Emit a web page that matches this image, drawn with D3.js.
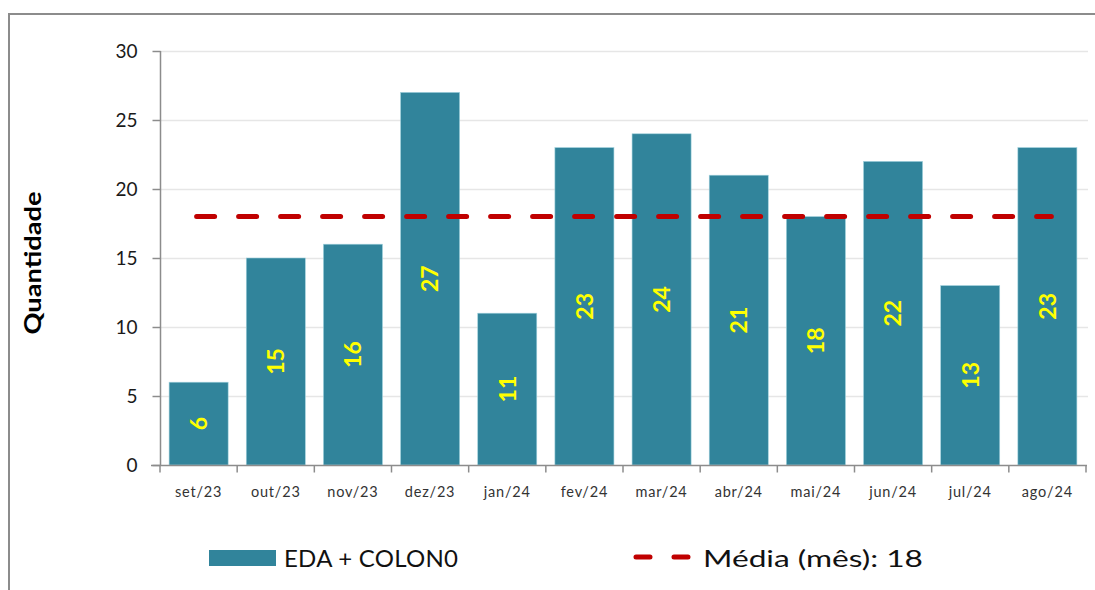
<!DOCTYPE html>
<html>
<head>
    <title>EDA + COLON0</title>
    <script src="https://d3js.org/d3.v7.min.js"></script>
    <style>
        body { margin: 0; padding: 0; background: #fff; overflow: hidden; }
        text { font-family: Lato, "Open Sans", "Liberation Sans", sans-serif; }
    </style>
</head>
<body>
    <script>
        var months = ["set/23", "out/23", "nov/23", "dez/23", "jan/24", "fev/24",
            "mar/24", "abr/24", "mai/24", "jun/24", "jul/24", "ago/24"];
        var counts = [6, 15, 16, 27, 11, 23, 24, 21, 18, 22, 13, 23];
        var mean = 18;
        var yTicks = [0, 5, 10, 15, 20, 25, 30];
        var seriesName = "EDA + COLON0";
        var meanName = "Média (mês): 18";

        var width = 1095, height = 590;
        var svg = d3.select("body").append("svg")
            .attr("width", width)
            .attr("height", height);

        // outer frame (only top and left visible)
        svg.append("path")
            .attr("d", "M9,590 L9,14 L1095,14")
            .attr("fill", "none")
            .attr("stroke", "#8c8c8c")
            .attr("stroke-width", 2);

        var x = d3.scaleBand().domain(months).range([160, 1086]).paddingInner(0.235).paddingOuter(0.118);
        var y = d3.scaleLinear().domain([0, 30]).range([465, 51]);

        // gridlines
        svg.append("g").selectAll("line")
            .data(yTicks.slice(1))
            .join("line")
            .attr("x1", 160).attr("x2", 1088)
            .attr("y1", d => y(d) + 0.5).attr("y2", d => y(d) + 0.5)
            .attr("stroke", "#e6e6e6").attr("stroke-width", 1.5);

        // bars
        svg.append("g").selectAll("rect")
            .data(counts)
            .join("rect")
            .attr("x", (d, i) => x(months[i]))
            .attr("y", d => y(d))
            .attr("width", x.bandwidth())
            .attr("height", d => y(0) - y(d))
            .attr("fill", "#31849b")
            .attr("stroke", "#9fd0dc")
            .attr("stroke-width", 0.6);

        // value labels
        svg.append("g").selectAll("text")
            .data(counts)
            .join("text")
            .attr("transform", (d, i) => "translate(" + (x(months[i]) + x.bandwidth() / 2) + "," + ((y(d) + y(0)) / 2) + ") rotate(-90)")
            .attr("text-anchor", "middle")
            .attr("dy", "0.36em")
            .attr("fill", "#ffff00")
            .attr("font-weight", "bold")
            .attr("font-size", 23)
            .text(d => d);

        // mean line
        svg.append("line")
            .attr("x1", x(months[0]) + x.bandwidth() / 2 - 2)
            .attr("x2", x(months[11]) + x.bandwidth() / 2 + 4)
            .attr("y1", y(mean)).attr("y2", y(mean))
            .attr("stroke", "#c00000")
            .attr("stroke-width", 5)
            .attr("stroke-linecap", "round")
            .attr("stroke-dasharray", "18,24");

        // y axis
        var yAxis = svg.append("g")
            .attr("transform", "translate(160.5,0)")
            .call(d3.axisLeft(y).tickValues(yTicks).tickSize(8).tickPadding(15));
        yAxis.select(".domain").attr("stroke", "#8c8c8c").attr("stroke-width", 1.5).attr("d", "M0," + y(30) + "V" + y(0));
        yAxis.selectAll(".tick line").attr("stroke", "#8c8c8c").attr("stroke-width", 1.5);
        yAxis.selectAll(".tick text").attr("font-size", 19).attr("fill", "#1a1a1a")
            .style("font-family", "Lato, 'Open Sans', sans-serif");

        // x axis
        var xAxis = svg.append("g").attr("transform", "translate(0," + (y(0) + 0.5) + ")");
        xAxis.append("line")
            .attr("x1", 151).attr("x2", 1087)
            .attr("stroke", "#8c8c8c").attr("stroke-width", 1.5);
        var bounds = d3.range(months.length + 1).map(i => 160 + i * (1086 - 160) / months.length);
        xAxis.selectAll(".tk")
            .data(bounds)
            .join("line")
            .attr("x1", d => d).attr("x2", d => d)
            .attr("y1", 0).attr("y2", 7)
            .attr("stroke", "#8c8c8c").attr("stroke-width", 1.5);
        xAxis.selectAll(".lb")
            .data(months)
            .join("text")
            .attr("x", d => x(d) + x.bandwidth() / 2)
            .attr("y", 31)
            .attr("text-anchor", "middle")
            .attr("font-size", 14.5)
            .attr("letter-spacing", 0.8)
            .attr("fill", "#333")
            .text(d => d);

        // axis title
        svg.append("text")
            .attr("transform", "translate(41,263) rotate(-90)")
            .attr("text-anchor", "middle")
            .attr("font-weight", "bold")
            .attr("font-size", 23)
            .attr("textLength", 143)
            .attr("lengthAdjust", "spacingAndGlyphs")
            .attr("fill", "#000")
            .text("Quantidade");

        // legend
        var legend = svg.append("g");
        legend.append("rect")
            .attr("x", 209).attr("y", 550).attr("width", 67).attr("height", 16)
            .attr("fill", "#31849b");
        legend.append("text")
            .attr("x", 284).attr("y", 567)
            .attr("font-size", 24).attr("fill", "#111")
            .attr("textLength", 174)
            .attr("lengthAdjust", "spacing")
            .text(seriesName);
        legend.append("line")
            .attr("x1", 636).attr("x2", 690)
            .attr("y1", 557).attr("y2", 557)
            .attr("stroke", "#c00000").attr("stroke-width", 5)
            .attr("stroke-linecap", "round")
            .attr("stroke-dasharray", "14,24");
        legend.append("text")
            .attr("x", 703).attr("y", 567)
            .attr("font-size", 24).attr("fill", "#111")
            .attr("textLength", 220)
            .attr("lengthAdjust", "spacingAndGlyphs")
            .text(meanName);
    </script>
</body>
</html>
